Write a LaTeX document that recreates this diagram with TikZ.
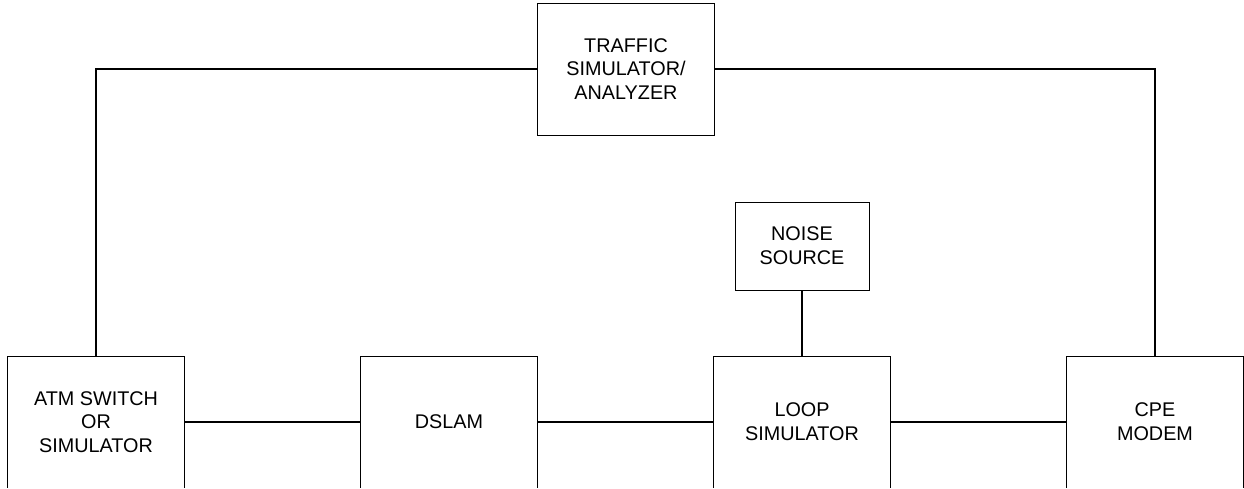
\documentclass[tikz,border=0pt]{standalone}
\usepackage{fontspec}
\setmainfont{Liberation Sans}
\usepackage{tikz}
\usetikzlibrary{positioning}
\definecolor{mydark}{RGB}{0,0,0}
\tikzset{
  block/.style={rectangle, draw=mydark, fill=white,
    minimum width=177pt, minimum height=132pt, inner sep=0pt,
    align=center, font=\fontsize{19.8}{23.7}\selectfont, line width=1pt},
  smallblock/.style={block, minimum width=134pt, minimum height=88pt},
  line/.style={line width=1.3pt, color=mydark}
}
\begin{document}
\begin{tikzpicture}[x=1pt, y=-1pt]
  \useasboundingbox (0,0) rectangle (1244,488);
  \clip (0,0) rectangle (1244,487);
  \node[block] (atm) at (96,422) {ATM SWITCH\\OR\\SIMULATOR};
  \node[block, right=175pt of atm] (dslam) {DSLAM};
  \node[block, right=175pt of dslam] (loop) {LOOP\\SIMULATOR};
  \node[block, right=175pt of loop] (cpe) {CPE\\MODEM};
  \node[smallblock, above=65pt of loop] (noise) {NOISE\\SOURCE};
  \node[block] (traffic) at (626,69) {TRAFFIC\\SIMULATOR/\\ANALYZER};

  \draw[line] (atm) -- (dslam);
  \draw[line] (dslam) -- (loop);
  \draw[line] (loop) -- (cpe);
  \draw[line] (noise) -- (loop);
  \draw[line] (atm.north) |- (traffic.west);
  \draw[line] (cpe.north) |- (traffic.east);
\end{tikzpicture}
\end{document}
